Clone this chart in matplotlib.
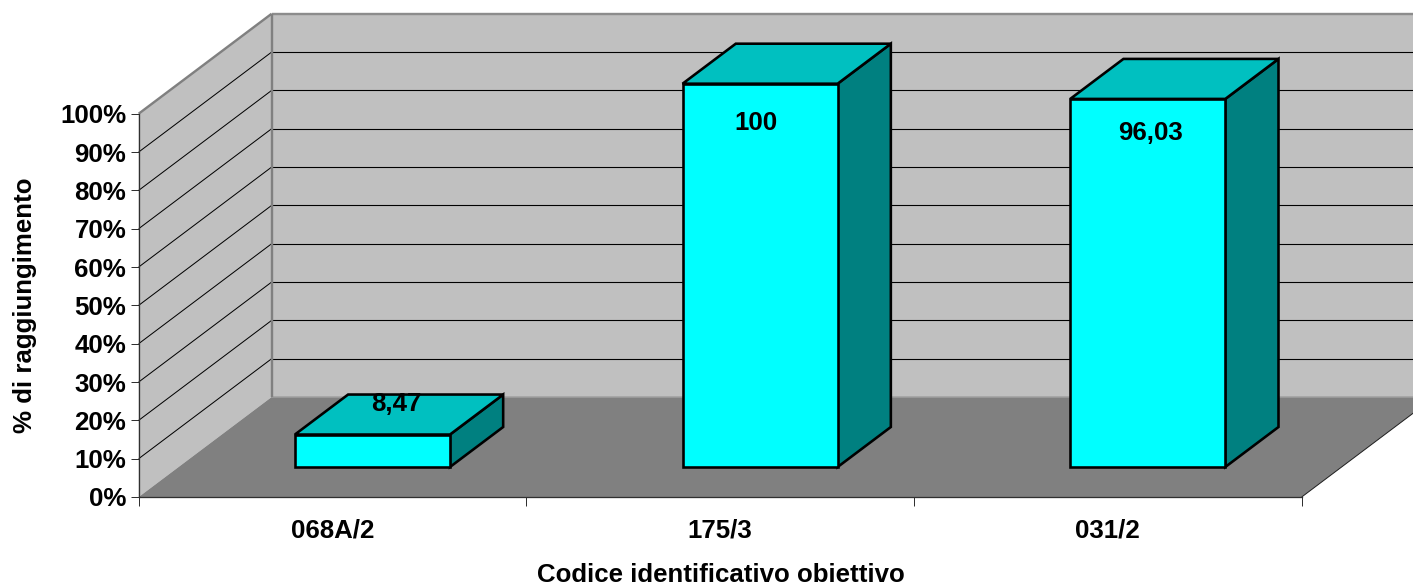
import matplotlib
matplotlib.use("Agg")
import matplotlib.pyplot as plt
from matplotlib.patches import Polygon

categories = ["068A/2", "175/3", "031/2"]
values = [8.47, 100, 96.03]
value_labels = ["8,47", "100", "96,03"]
y_ticks = [0, 10, 20, 30, 40, 50, 60, 70, 80, 90, 100]
y_tick_labels = [f"{v}%" for v in y_ticks]

W, H = 1413, 585
DPI = 100
px = 72 / DPI  # points per pixel

# oblique projection of the depth axis (category units, percent units per unit depth)
L, R, B, T = 138.7, 1301.7, 497.0, 113.7
cat_px = (R - L) / len(categories)
pct_px = (B - T) / 100
DX = 133 / cat_px
DY = 100 / pct_px
BAR_GAP, BAR_W = 0.3, 0.4
DEPTH0, DEPTH1 = 0.3, 0.7

# label offsets in pixels from the top-centre of each bar's front face
label_offsets = [(24, 31), (-4.5, -39), (3, -34)]

fig = plt.figure(figsize=(W / DPI, H / DPI), dpi=DPI, facecolor="white")
ax = fig.add_axes([L / W, (H - B) / H, (R - L) / W, (B - T) / H])
ax.patch.set_visible(False)
ax.set_xlim(0, len(categories))
ax.set_ylim(0, 100)

plt.rcParams["font.family"] = ["Liberation Sans", "DejaVu Sans"]
font = dict(family=["Liberation Sans", "DejaVu Sans"], fontweight="bold", fontsize=25.9 * px)


def P(x, y, d=0.0):
    return (x + d * DX, y + d * DY)


def poly(pts, **kw):
    kw.setdefault("clip_on", False)
    ax.add_patch(Polygon(pts, closed=True, **kw))


n = len(categories)
WALL, FLOOR = "#C0C0C0", "#808080"
# back wall, side wall, floor
poly([P(0, 0, 1), P(n, 0, 1), P(n, 100, 1), P(0, 100, 1)], fc=WALL, ec="none", zorder=1)
poly([P(0, 0, 0), P(0, 0, 1), P(0, 100, 1), P(0, 100, 0)], fc=WALL, ec="none", zorder=1)
poly([P(0, 0, 0), P(n, 0, 0), P(n, 0, 1), P(0, 0, 1)], fc=FLOOR, ec="none", zorder=1.2)


def line(a, b, **kw):
    ax.plot([a[0], b[0]], [a[1], b[1]], clip_on=False, solid_capstyle="butt", **kw)


# gridlines on the walls
for v in y_ticks[1:-1]:
    line(P(0, v, 0), P(0, v, 1), color="black", lw=1.0 * px, zorder=2)
    line(P(0, v, 1), P(n, v, 1), color="black", lw=1.1 * px, zorder=2)

# wall borders
line(P(0, 100, 0), P(0, 100, 1), color="#808080", lw=2.4 * px, zorder=2.1)
line(P(0, 100, 1), P(n, 100, 1), color="#8C8C8C", lw=2.4 * px, zorder=2.1)
line(P(0, 0, 1), P(0, 100, 1), color="#808080", lw=2.4 * px, zorder=2.1)
line(P(0, 0, 1), P(n, 0, 1), color="#A0A0A0", lw=1.5 * px, zorder=1.3)
line(P(n, 0, 0), P(n, 0, 1), color="#202020", lw=1 * px, zorder=2.1)

# bars
edge = dict(ec="black", lw=2.6 * px, joinstyle="miter", zorder=3)
for i, v in enumerate(values):
    x0, x1 = i + BAR_GAP, i + BAR_GAP + BAR_W
    poly([P(x1, 0, DEPTH0), P(x1, 0, DEPTH1), P(x1, v, DEPTH1), P(x1, v, DEPTH0)], fc="#008080", **edge)
    poly([P(x0, v, DEPTH0), P(x1, v, DEPTH0), P(x1, v, DEPTH1), P(x0, v, DEPTH1)], fc="#00C0C0", **edge)
    poly([P(x0, 0, DEPTH0), P(x1, 0, DEPTH0), P(x1, v, DEPTH0), P(x0, v, DEPTH0)], fc="#00FFFF", **edge)
    ax.annotate(value_labels[i], xy=P((x0 + x1) / 2, v, DEPTH0),
                xytext=(label_offsets[i][0] * px, label_offsets[i][1] * px),
                textcoords="offset points", ha="center", va="center",
                zorder=4, annotation_clip=False, **font)

# axes
for s in ("top", "right"):
    ax.spines[s].set_visible(False)
for s in ("left", "bottom"):
    ax.spines[s].set_linewidth(1.3 * px)
    ax.spines[s].set_color("#303030")
    ax.spines[s].set_zorder(2.5)

ax.set_yticks(y_ticks, y_tick_labels, **font)
ax.tick_params(axis="y", length=8.5 * px, width=1 * px, color="#303030", pad=4 * px)
ax.set_xticks(range(n + 1), [""] * (n + 1))
ax.tick_params(axis="x", which="major", length=9 * px, width=1 * px, color="#303030")
ax.set_xticks([i + 0.5 for i in range(n)], categories, minor=True, **font)
ax.tick_params(axis="x", which="minor", length=0, pad=21.5 * px)

fig.text(720.5 / W, 1 - 575 / H, "Codice identificativo obiettivo", ha="center", va="center", **font)
fig.text(25 / W, 1 - 305 / H, "% di raggiungimento", rotation=90, ha="center", va="center", **font)

fig.savefig("out.png", dpi=DPI, facecolor="white")
